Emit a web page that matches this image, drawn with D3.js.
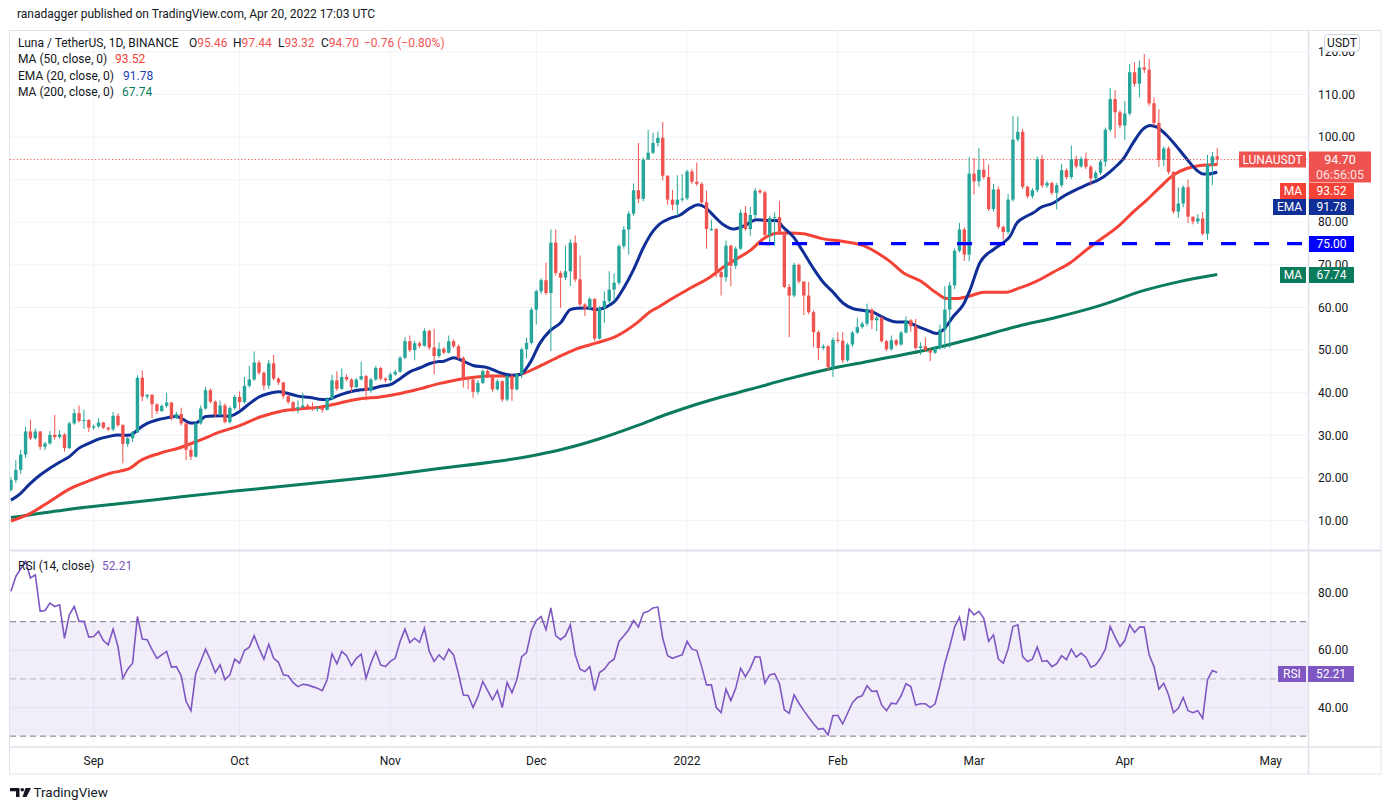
<!DOCTYPE html>
<html><head><meta charset="utf-8">
<script src="https://cdn.jsdelivr.net/npm/d3@7"></script>
<style>
body{margin:0;background:#fff;}
svg{display:block;font-family:Roboto,"Noto Sans",sans-serif;}
</style>
</head><body>
<svg id="c" width="1386" height="810"></svg>
<script>
// ---- DATA (day index 0 = 2021-08-15, daily candles; open = previous close) ----
const firstOpen = 17.2;
const closes = [
19.5,21.9,25.5,30.9,29.3,30.9,27.3,28.1,30.1,29.6,
30.2,27.0,32.8,35.2,33.4,33.6,31.8,32.1,33.0,31.8,
31.4,34.6,32.4,28.0,29.3,30.7,43.5,39.1,39.5,37.3,
35.7,36.9,37.7,34.1,35.0,32.8,26.6,25.0,32.8,36.3,
40.6,37.9,34.8,37.0,33.1,36.4,39.0,37.8,41.6,43.1,
47.1,44.7,41.7,46.9,43.3,42.4,39.2,37.8,36.2,36.6,
37.0,36.6,36.2,36.4,36.0,38.6,42.9,40.9,43.7,43.1,
41.3,43.1,43.9,40.4,43.1,45.8,43.3,42.9,44.3,44.9,
48.2,52.1,50.0,51.6,51.0,54.5,50.6,48.6,50.3,49.4,
52.1,50.9,48.2,43.5,43.1,40.2,42.3,45.1,43.9,40.8,
42.7,38.4,43.9,40.8,44.3,50.2,51.7,59.5,63.8,66.4,
63.4,75.2,68.1,67.0,68.5,75.2,66.6,60.7,59.8,62.0,
52.7,59.9,61.5,64.2,65.8,74.4,78.3,82.0,87.5,85.5,
94.7,96.3,98.6,99.8,90.9,85.3,84.1,85.3,85.6,91.9,
89.5,89.0,84.7,78.4,78.4,68.3,67.1,74.5,69.8,73.8,
82.2,78.4,81.7,87.4,87.0,77.0,81.0,81.2,77.5,64.8,
62.8,70.0,66.1,62.8,58.9,54.2,50.5,50.9,46.0,52.4,
52.2,47.6,51.3,54.1,55.4,56.2,59.5,57.0,57.6,52.1,
50.2,52.3,51.3,54.1,57.0,55.6,50.5,50.9,50.0,49.4,
50.5,54.8,59.5,65.2,73.3,78.3,72.4,91.4,89.6,92.3,
90.6,83.1,87.7,78.9,77.7,85.3,99.4,101.2,88.3,86.1,
87.5,94.8,88.6,89.2,86.9,88.7,92.2,90.6,94.8,93.1,
94.9,93.0,90.3,91.6,94.2,101.7,108.9,105.8,102.7,105.5,
115.2,112.5,116.3,115.8,107.9,103.3,94.6,97.3,91.8,82.5,
84.4,88.2,81.3,80.2,80.9,77.3,93.5,95.46,94.70];
const highs = [
20.2,24.2,26.6,32.0,33.7,31.6,31.0,28.5,31.0,34.8,
31.2,30.5,33.2,36.2,37.0,36.0,33.8,32.5,34.0,33.2,
32.0,35.5,35.2,32.6,29.6,31.0,44.1,45.2,39.7,39.7,
37.5,37.3,40.0,37.8,35.5,36.5,33.2,27.5,33.0,37.0,
41.4,41.0,38.2,38.2,37.5,36.8,39.5,40.3,43.7,46.3,
49.7,47.6,45.0,47.7,48.9,43.6,42.6,39.6,38.0,38.2,
40.0,37.4,37.7,36.9,36.7,38.9,44.2,45.0,45.7,44.3,
43.4,43.4,47.3,44.2,43.5,46.3,46.1,43.6,44.8,45.4,
48.6,53.0,53.4,52.2,52.0,55.1,54.8,55.0,51.8,50.7,
53.4,52.5,51.3,48.5,43.8,43.3,43.0,45.4,45.6,44.2,
43.2,42.9,44.3,44.5,44.6,50.6,52.9,60.0,64.2,66.9,
70.5,78.3,78.3,68.6,74.5,76.0,76.9,72.2,61.0,62.5,
62.2,60.3,63.8,68.5,68.0,74.8,79.1,82.6,89.1,98.6,
95.2,101.7,101.0,101.3,103.5,91.0,87.6,91.0,91.3,92.3,
92.5,94.0,89.4,87.4,80.6,78.6,69.0,75.7,74.7,74.3,
83.0,83.8,83.6,88.0,87.8,87.4,81.5,82.3,85.0,78.0,
65.5,70.5,70.3,66.0,66.0,59.3,54.6,51.4,51.2,53.0,
54.2,54.2,51.7,54.5,57.6,56.6,60.9,59.8,58.0,57.9,
52.4,53.4,52.6,54.5,57.9,57.3,57.3,51.8,53.0,50.3,
50.9,56.0,65.0,66.0,73.8,79.8,78.8,95.3,95.1,97.4,
94.9,93.5,89.0,88.4,79.2,86.6,105.0,104.8,101.9,88.6,
88.0,95.4,95.8,89.7,89.5,89.2,93.7,92.6,98.0,95.6,
95.4,96.3,93.4,92.1,94.7,102.2,111.5,111.0,106.3,108.4,
117.1,117.5,117.9,119.5,118.3,109.3,106.5,97.8,97.8,92.0,
88.2,88.7,90.0,81.3,81.9,82.4,95.8,96.5,97.44];
const lows = [
16.8,18.8,21.0,24.7,28.9,29.0,26.6,26.5,27.8,29.0,
29.2,26.2,26.8,32.5,33.0,31.5,30.8,31.3,31.8,31.5,
31.0,31.0,32.0,23.4,27.3,28.5,30.5,38.0,38.5,34.0,
35.0,35.5,36.5,33.5,33.8,32.3,24.2,24.2,24.8,32.5,
36.0,37.5,34.3,34.5,32.8,32.8,36.0,36.1,37.5,41.2,
42.8,44.2,40.6,40.9,42.9,41.8,38.6,37.4,35.4,35.2,
36.4,36.2,35.8,35.6,35.3,35.8,38.4,40.4,40.7,42.7,
40.1,41.0,42.9,38.2,40.0,42.8,42.9,42.4,42.6,44.0,
44.7,47.9,49.5,47.6,50.5,50.8,50.0,44.3,48.2,49.0,
49.2,50.5,47.8,41.2,40.8,38.8,39.6,42.0,43.5,40.3,
40.5,37.8,38.0,38.1,40.5,43.4,48.0,51.3,56.0,63.2,
62.9,49.8,67.5,59.9,66.4,65.0,66.0,60.2,58.0,59.5,
52.1,52.5,56.4,61.0,61.5,65.3,73.8,72.4,81.5,84.5,
84.9,95.6,96.0,97.8,89.8,84.1,82.8,81.5,84.8,85.2,
89.0,88.5,84.2,73.8,78.0,67.1,62.8,66.0,65.0,69.0,
73.5,78.0,76.8,81.0,86.6,76.4,74.5,74.5,77.0,64.5,
53.0,62.4,65.6,58.2,58.4,50.7,47.6,50.0,45.2,43.7,
51.7,47.0,47.2,50.8,53.8,55.0,55.6,54.9,54.5,51.7,
49.8,49.9,50.9,51.0,53.9,54.3,50.1,48.9,49.6,47.4,
49.1,50.1,50.3,50.5,64.3,72.9,70.9,70.8,86.5,88.4,
90.1,82.6,82.5,78.4,75.9,77.2,84.8,98.9,87.8,85.6,
85.6,87.0,88.1,88.1,86.4,83.0,88.2,90.1,90.1,92.6,
92.8,92.5,88.7,89.8,91.1,93.0,101.2,99.7,102.0,99.3,
105.0,111.8,109.3,115.0,107.2,102.6,93.0,93.2,91.2,82.0,
81.0,83.5,79.8,79.5,79.6,76.9,75.9,88.7,93.32];

// indicator lines: [dayIndex, value]
const ema20 = [[0,14.8],[2,16.4],[4,18.75],[6,20.7],[8,22.3],[10,23.7],[12,25.0],[14,27.0],[16,28.1],[18,29.1],[20,29.7],[22,30.1],[24,30.0],[25,30.3],[26,31.3],[28,32.8],[30,33.6],[32,34.1],[34,34.4],[35,34.0],[37,32.9],[38,32.9],[39,33.6],[40,34.4],[43,34.6],[45,34.5],[47,35.6],[49,37.4],[51,39.0],[53,39.8],[55,40.2],[57,39.8],[59,39.2],[61.5,38.9],[64,38.4],[65,38.4],[67,39.2],[69,40.0],[72,40.7],[74,40.9],[76,41.5],[78,41.9],[80,43.3],[82,44.9],[84,45.8],[86,46.8],[88,47.3],[89,47.4],[91,48.2],[93,47.4],[95,46.4],[98,45.9],[100.5,44.7],[103,44.1],[104.7,44.3],[106.7,47.0],[108.8,51.7],[110.8,54.5],[113,56.4],[115,59.5],[116.4,59.8],[118.4,59.9],[120.4,59.5],[122.5,60.2],[124.2,61.5],[126,64.6],[128,68.9],[130,74.0],[132,77.9],[133.4,79.6],[135.5,80.9],[137.6,81.7],[139.6,83.3],[141.3,84.1],[142.7,83.5],[144.4,81.6],[146.5,79.4],[148.5,78.4],[150.6,79.1],[153.3,80.6],[155.4,80.4],[157.4,80.4],[158.8,78.8],[160.9,76.5],[162.9,73.0],[165,69.1],[167,65.9],[169,63.6],[171.1,61.0],[173.2,59.7],[175.3,59.3],[177,59.0],[179.4,57.6],[182.1,56.6],[184.2,56.6],[186.2,55.6],[188.3,54.7],[190.3,53.9],[191.7,54.8],[193.8,58.0],[195.8,60.7],[197.2,64.2],[199.2,70.5],[202,73.6],[204,75.2],[205.4,76.7],[206.8,79.8],[208.8,81.4],[210.2,82.2],[211.6,83.4],[214.3,84.5],[216.4,86.1],[218.4,87.3],[221.2,88.8],[224,90.2],[226.7,92.6],[228.7,94.9],[230.8,98.8],[232.8,101.9],[234.2,102.7],[235.6,102.3],[237.6,100.4],[239.7,97.7],[241.7,94.9],[243.8,92.2],[245.2,91.3],[246.2,91.3],[248,91.78]];
const ma50 = [[0,9.9],[4,11.7],[8,14.5],[12,17.4],[16,19.3],[20.4,21.1],[24.5,22.3],[26.5,24.0],[30.6,25.8],[34.7,27.1],[38.9,28.9],[43,30.8],[47,32.3],[51.2,34.3],[55.3,35.6],[59.4,36.2],[63.5,36.6],[67.6,37.6],[71.8,38.6],[75.9,39.0],[80,39.8],[84,40.9],[88.2,42.2],[90.3,42.7],[94.4,43.5],[98.5,43.9],[102.6,43.9],[105.3,44.5],[108.1,45.9],[112.2,48.2],[116.3,50.3],[120.4,51.7],[124.5,53.3],[128.7,56.4],[131.4,59.0],[133.4,60.3],[135.5,61.8],[139.6,64.5],[143.7,67.1],[146.5,69.5],[149.2,71.4],[152,73.4],[154.7,76.1],[157.4,77.4],[160.2,77.5],[162.9,77.3],[167,76.1],[171.1,75.5],[175.3,74.5],[178.8,72.3],[180.5,71.0],[183.5,68.1],[187,66.2],[190.3,63.4],[192.4,62.1],[194.4,62.1],[197.2,62.7],[200,63.6],[202.7,63.6],[204.7,63.6],[207.4,64.6],[210.9,66.2],[214.3,68.3],[217.8,70.5],[221.2,73.6],[223.9,75.9],[225.3,77.0],[228,79.4],[230.8,82.5],[233.5,85.2],[236.3,88.3],[239,91.1],[241.7,92.6],[244.5,93.3],[248,93.52]];
const ma200 = [[0,10.7],[11,12.5],[25,14.3],[35,15.6],[45,16.8],[60,18.5],[70,19.7],[77,20.6],[88,22.2],[100,23.9],[108,25.4],[115,27.2],[121,29.2],[129,32.4],[135,35.0],[141,37.3],[147,39.3],[152,40.8],[160,43.3],[168,45.5],[177,47.5],[190,50.5],[197,52.5],[207,55.6],[215,57.7],[224,60.5],[233,64.0],[240,66.0],[248,67.74]];
const rsi = [
80.6,85.8,88.5,91.1,85.3,86.4,73.6,73.9,76.5,75.3,
75.9,64.2,72.4,75.3,70.1,70.1,64.6,64.8,66.6,63.4,
61.9,67.4,61.3,50.2,53.4,55.5,71.8,63.9,63.7,60.2,
57.2,58.4,59.6,54.1,54.3,51.1,42.1,38.9,52.0,56.1,
60.4,56.7,52.2,54.9,49.7,51.4,56.9,55.5,59.9,61.1,
65.1,60.7,56.9,62.1,57.2,55.8,51.4,51.1,48.7,47.3,
48.1,47.9,47.3,46.7,45.9,49.7,58.8,55.3,59.6,58.1,
54.6,57.2,58.6,50.2,55.5,59.6,54.9,54.3,56.1,57.2,
63.1,67.4,62.7,64.2,62.8,67.7,59.6,56.1,58.4,56.7,
60.4,58.4,51.8,44.4,44.2,40.0,43.8,49.1,45.9,42.7,
45.9,40.0,48.7,45.2,49.7,57.8,59.2,66.9,70.4,71.8,
67.2,74.8,65.1,63.7,65.1,68.9,58.4,53.4,52.6,54.3,
45.9,52.2,53.4,55.7,56.9,63.1,65.1,67.2,70.4,68.1,
73.0,73.6,74.8,75.1,64.2,58.1,57.2,57.8,58.4,63.1,
60.4,59.9,54.3,47.9,47.9,40.0,38.2,46.4,42.4,46.7,
53.7,50.8,53.7,57.8,57.6,48.5,51.4,51.8,48.3,39.2,
38.0,44.4,41.5,38.9,36.6,34.3,32.4,32.7,30.4,37.2,
37.2,34.3,38.0,41.7,43.5,44.1,47.6,45.6,45.8,40.9,
38.9,41.5,41.3,44.1,48.3,47.3,40.9,41.3,41.3,40.0,
41.3,47.9,55.5,61.3,68.1,71.6,63.4,74.4,72.4,73.6,
71.2,63.1,65.4,56.9,55.5,60.4,68.3,68.9,57.8,56.1,
56.9,61.1,56.1,56.4,54.3,55.3,58.1,56.7,60.4,57.6,
59.0,57.6,54.1,54.9,57.2,60.4,68.3,64.6,61.3,63.4,
68.9,66.2,68.1,68.1,58.4,54.3,46.4,48.5,44.4,38.2,
39.7,43.5,38.9,38.2,38.9,36.2,49.7,52.9,52.21];

const priceTicks = [10,20,30,40,50,60,70,80,90,100,110,120];
const hiddenPriceTicks = [90];          // covered by the last-price tag in the reference
const rsiTicks = [40,60,80];
const rsiLevels = [70,50,30];
const monthLabels = ["Sep","Oct","Nov","Dec","2022","Feb","Mar","Apr","May"];
const monthDays = [17,47,78,108,139,170,198,229,259];
const supportLevel = 75;
const supportStartDay = 153.8;
const legendOHLC = {o:"95.46",h:"97.44",l:"93.32",c:"94.70",chg:"\u22120.76 (\u22120.80%)"};

// ---- LAYOUT ----
const L=10, R=1308, T=30, MB=550, RT=551, RB=747, FR=1381, FB=774;
const svg = d3.select('#c');
const x = d3.scaleLinear().domain([-0.2, 266.66]).range([L, R]);
const y = d3.scaleLinear().domain([3.1, 125.1]).range([MB, T]);
const yr = d3.scaleLinear().domain([26.2, 94.7]).range([RB, RT]);

const UP="#26a69a", DN="#ef5350", RED="#f44336", NAVY="#0f2f96", TEAL="#0b7b5d", PURP="#7e57c2";
const GRID="#f0f3fa", BORDER="#e0e3eb", TXT="#131722";

svg.append('rect').attr('width',1386).attr('height',810).attr('fill','#fff');

const defs = svg.append('defs');
defs.append('clipPath').attr('id','cm').append('rect').attr('x',L).attr('y',T).attr('width',R-L).attr('height',MB-T);
defs.append('clipPath').attr('id','cr').append('rect').attr('x',L).attr('y',RT).attr('width',R-L).attr('height',RB-RT);

// grid
const g = svg.append('g');
g.selectAll('.vg').data(monthDays).join('line')
  .attr('x1',d=>x(d)).attr('x2',d=>x(d)).attr('y1',T).attr('y2',RB)
  .attr('stroke',GRID).attr('stroke-width',1);
g.selectAll('.hg').data(priceTicks).join('line')
  .attr('x1',L).attr('x2',R).attr('y1',d=>y(d)).attr('y2',d=>y(d))
  .attr('stroke',GRID).attr('stroke-width',1);
g.selectAll('.rg').data(rsiTicks).join('line')
  .attr('x1',L).attr('x2',R).attr('y1',d=>yr(d)).attr('y2',d=>yr(d))
  .attr('stroke',GRID).attr('stroke-width',1);

// ---- main panel ----
const main = svg.append('g').attr('clip-path','url(#cm)');

const lineP = (arr)=>d3.line().x(d=>x(d[0])).y(d=>y(d[1])).curve(d3.curveMonotoneX)(arr);
main.append('path').attr('d',lineP(ma200)).attr('fill','none').attr('stroke',TEAL).attr('stroke-width',3);
main.append('path').attr('d',lineP(ma50)).attr('fill','none').attr('stroke',RED).attr('stroke-width',3);
main.append('path').attr('d',lineP(ema20)).attr('fill','none').attr('stroke',NAVY).attr('stroke-width',3);

// last price dotted line
main.append('line').attr('x1',L).attr('x2',R)
  .attr('y1',y(+legendOHLC.c)).attr('y2',y(+legendOHLC.c))
  .attr('stroke',DN).attr('stroke-width',1).attr('stroke-dasharray','1.2,2.2');

// candles
const candles = closes.map((c,i)=>{
  const o = i===0 ? firstOpen : closes[i-1];
  return {i, o, c, h:Math.max(highs[i],o,c), l:Math.min(lows[i],o,c)};
});
const cg = main.append('g');
cg.selectAll('line').data(candles).join('line')
  .attr('x1',d=>x(d.i)).attr('x2',d=>x(d.i))
  .attr('y1',d=>y(d.h)).attr('y2',d=>y(d.l))
  .attr('stroke',d=>d.c>=d.o?UP:DN).attr('stroke-width',1);
cg.selectAll('rect').data(candles).join('rect')
  .attr('x',d=>x(d.i)-1.7).attr('width',3.4)
  .attr('y',d=>y(Math.max(d.o,d.c)))
  .attr('height',d=>Math.max(1,Math.abs(y(d.o)-y(d.c))))
  .attr('fill',d=>d.c>=d.o?UP:DN);

// support line 75
main.append('line').attr('x1',x(supportStartDay)).attr('x2',R)
  .attr('y1',y(supportLevel)).attr('y2',y(supportLevel))
  .attr('stroke','#0000ff').attr('stroke-width',3.2).attr('stroke-dasharray','15,18');

// ---- RSI panel ----
const rp = svg.append('g').attr('clip-path','url(#cr)');
rp.append('rect').attr('x',L).attr('width',R-L).attr('y',yr(70)).attr('height',yr(30)-yr(70))
  .attr('fill',PURP).attr('fill-opacity',0.1);
rp.selectAll('.lv').data(rsiLevels).join('line')
  .attr('x1',L).attr('x2',R).attr('y1',d=>yr(d)).attr('y2',d=>yr(d))
  .attr('stroke',d=>d===50?'#b2b5be':'#787b86').attr('stroke-width',1).attr('stroke-dasharray','6,4');
rp.append('path').attr('d',d3.line().x((d,i)=>x(i)).y(d=>yr(d))(rsi))
  .attr('fill','none').attr('stroke',PURP).attr('stroke-width',1.6);

// ---- frame / borders ----
const fr = svg.append('g').attr('fill','none').attr('stroke',BORDER);
fr.append('rect').attr('x',9.5).attr('y',30.5).attr('width',FR-9.5).attr('height',FB-30.5);
fr.append('line').attr('x1',9.5).attr('x2',FR).attr('y1',550.5).attr('y2',550.5).attr('stroke-width',2);
fr.append('line').attr('x1',9.5).attr('x2',FR).attr('y1',747).attr('y2',747).attr('stroke-width',1.5);
fr.append('line').attr('x1',R+0.5).attr('x2',R+0.5).attr('y1',30).attr('y2',FB).attr('stroke-width',1.5);

// ---- axes text ----
const at = svg.append('g').attr('font-size',12).attr('fill',TXT);
at.selectAll('.pt').data(priceTicks.filter(t=>!hiddenPriceTicks.includes(t))).join('text')
  .attr('x',1318).attr('y',d=>y(d)).attr('dy','0.35em').text(d=>d.toFixed(2));
at.selectAll('.rt').data(rsiTicks).join('text')
  .attr('x',1318).attr('y',d=>yr(d)).attr('dy','0.35em').text(d=>d.toFixed(2));
at.selectAll('.mt').data(monthLabels).join('text')
  .attr('x',(d,i)=>x(monthDays[i])).attr('y',761).attr('dy','0.35em').attr('text-anchor','middle').text(d=>d);

// USDT box
svg.append('rect').attr('x',1324.5).attr('y',34.5).attr('width',35).attr('height',17).attr('rx',3)
  .attr('fill','#fff').attr('stroke','#d1d4dc');
svg.append('text').attr('x',1342).attr('y',43).attr('dy','0.35em').attr('text-anchor','middle')
  .attr('font-size',12).attr('fill',TXT).text('USDT');

// right labels
function tag(x0,w,y0,h,bg,txt){
  svg.append('rect').attr('x',x0).attr('y',y0).attr('width',w).attr('height',h).attr('fill',bg);
  if(txt!==null) svg.append('text').attr('x',x0+w/2).attr('y',y0+h/2).attr('dy','0.36em')
    .attr('text-anchor','middle').attr('font-size',12).attr('fill','#fff').text(txt);
}
tag(1239,67,151.5,16,'#ef5350','LUNAUSDT');
tag(1309,62,151.5,31,'#ef5350',null);
svg.append('text').attr('x',1340).attr('y',159.5).attr('dy','0.36em').attr('text-anchor','middle')
  .attr('font-size',12.5).attr('fill','#fff').text(legendOHLC.c);
svg.append('text').attr('x',1340).attr('y',174.5).attr('dy','0.36em').attr('text-anchor','middle')
  .attr('font-size',12.5).attr('fill','#fff').attr('fill-opacity',0.85).text('06:56:05');
tag(1280,26,183,16,RED,'MA');
tag(1309,45,183,16,RED,'93.52');
tag(1273,33,199,16,NAVY,'EMA');
tag(1309,45,199,16,NAVY,'91.78');
tag(1309,45,236,16,'#0000ff','75.00');
tag(1280,26,267,16,TEAL,'MA');
tag(1309,45,267,16,TEAL,'67.74');
tag(1278,28,666,16,PURP,'RSI');
tag(1308,46,666,16,PURP,'52.21');

// ---- legends ----
const lg = svg.append('g').attr('font-size',12).attr('fill',TXT);
lg.append('text').attr('x',17).attr('y',14).attr('dy','0.35em').attr('font-size',12)
  .text('ranadagger published on TradingView.com, Apr 20, 2022 17:03 UTC');
const l1 = lg.append('text').attr('y',42.5).attr('dy','0.35em');
l1.append('tspan').attr('x',18).text('Luna / TetherUS, 1D, BINANCE');
[['O',189,legendOHLC.o],['H',233,legendOHLC.h],['L',278,legendOHLC.l],['C',321,legendOHLC.c]].forEach(([k,px,v])=>{
  l1.append('tspan').attr('x',px).text(k);
  l1.append('tspan').attr('fill',DN).text(v);
});
l1.append('tspan').attr('x',364).attr('fill',DN).text(legendOHLC.chg);
const l2 = lg.append('text').attr('y',59).attr('dy','0.35em');
l2.append('tspan').attr('x',18).text('MA (50, close, 0)');
l2.append('tspan').attr('x',115).attr('fill',RED).text('93.52');
const l3 = lg.append('text').attr('y',75.5).attr('dy','0.35em');
l3.append('tspan').attr('x',18).text('EMA (20, close, 0)');
l3.append('tspan').attr('x',123).attr('fill','#1e40af').text('91.78');
const l4 = lg.append('text').attr('y',92).attr('dy','0.35em');
l4.append('tspan').attr('x',18).text('MA (200, close, 0)');
l4.append('tspan').attr('x',122).attr('fill',TEAL).text('67.74');
const l5 = lg.append('text').attr('y',565.5).attr('dy','0.35em');
l5.append('tspan').attr('x',18).text('RSI (14, close)');
l5.append('tspan').attr('x',102).attr('fill',PURP).text('52.21');

// ---- TradingView logo ----
const logo = svg.append('g').attr('fill',TXT);
logo.append('path').attr('d','M10,788 H19.5 V797 H16 V791.3 H10 Z');
logo.append('circle').attr('cx',22.3).attr('cy',789.8).attr('r',1.8);
logo.append('path').attr('d','M25.5,788 H31 L26.5,797 H22.5 Z');
svg.append('text').attr('x',33.5).attr('y',792.5).attr('dy','0.35em').attr('font-size',13.5)
  .attr('fill',TXT).text('TradingView');
</script>
</body></html>
